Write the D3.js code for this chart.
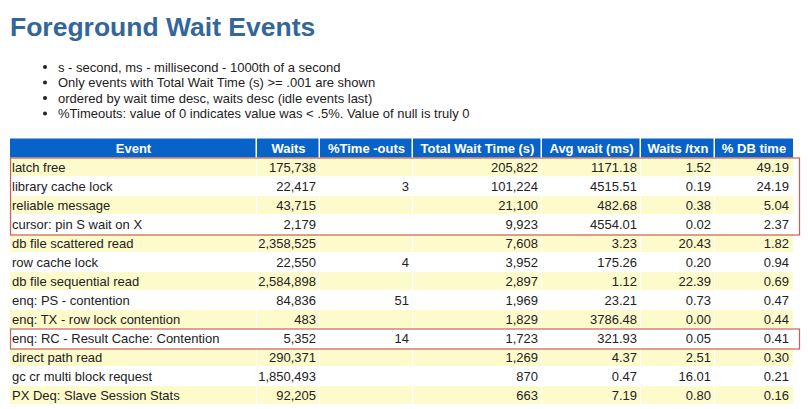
<!DOCTYPE html>
<html><head><meta charset="utf-8">
<script src="https://cdn.jsdelivr.net/npm/d3@7"></script>
<style>
html,body{margin:0;padding:0;background:#fff;}
svg{display:block;font-family:Arial,"Liberation Sans",sans-serif;}
</style></head>
<body>
<svg id="chart" width="808" height="409"></svg>
<script>
// ---- data ----
const title = "Foreground Wait Events";
const notes = [
  "s - second, ms - millisecond - 1000th of a second",
  "Only events with Total Wait Time (s) >= .001 are shown",
  "ordered by wait time desc, waits desc (idle events last)",
  "%Timeouts: value of 0 indicates value was < .5%. Value of null is truly 0"
];
const headers = ["Event", "Waits", "%Time -outs", "Total Wait Time (s)", "Avg wait (ms)", "Waits /txn", "% DB time"];
const events = ["latch free","library cache lock","reliable message","cursor: pin S wait on X",
  "db file scattered read","row cache lock","db file sequential read","enq: PS - contention",
  "enq: TX - row lock contention","enq: RC - Result Cache: Contention","direct path read",
  "gc cr multi block request","PX Deq: Slave Session Stats"];
const waits = [175738,22417,43715,2179,2358525,22550,2584898,84836,483,5352,290371,1850493,92205];
const timeouts = [null,3,null,null,null,4,null,51,null,14,null,null,null];
const totalWait = [205822,101224,21100,9923,7608,3952,2897,1969,1829,1723,1269,870,663];
const avgWait = [1171.18,4515.51,482.68,4554.01,3.23,175.26,1.12,23.21,3786.48,321.93,4.37,0.47,7.19];
const waitsPerTxn = [1.52,0.19,0.38,0.02,20.43,0.20,22.39,0.73,0.00,0.05,2.51,16.01,0.80];
const pctDbTime = [49.19,24.19,5.04,2.37,1.82,0.94,0.69,0.47,0.44,0.41,0.30,0.21,0.16];
const highlightGroups = [["latch free","cursor: pin S wait on X"],
  ["enq: RC - Result Cache: Contention","enq: RC - Result Cache: Contention"]];

// ---- layout ----
const svg = d3.select("#chart");
const colEdges = [10, 257, 320, 413, 542, 641, 715, 793];
const headerTop = 138.5, headerH = 19;
const y = d3.scaleBand().domain(events).range([headerTop + headerH, headerTop + headerH + 19 * events.length]).padding(0);

const fmtInt = d3.format(",");
const fmt2 = d3.format(".2f");
const rows = events.map((e, i) => [
  e,
  fmtInt(waits[i]),
  timeouts[i] == null ? "" : String(timeouts[i]),
  fmtInt(totalWait[i]),
  fmt2(avgWait[i]),
  fmt2(waitsPerTxn[i]),
  fmt2(pctDbTime[i])
]);

// title
svg.append("text").attr("x", 10).attr("y", 36)
  .attr("font-size", 26.5).attr("font-weight", "bold").attr("fill", "#336699")
  .text(title);

// notes
const ng = svg.append("g");
notes.forEach((n, i) => {
  const yy = 67 + i * 15.5;
  ng.append("circle").attr("cx", 45).attr("cy", yy).attr("r", 2).attr("fill", "#222");
  ng.append("text").attr("x", 58).attr("y", yy + 4.5).attr("font-size", 13).attr("fill", "#222").text(n);
});

// header
const hg = svg.append("g");
headers.forEach((h, j) => {
  const x0 = colEdges[j], x1 = colEdges[j + 1];
  hg.append("rect").attr("x", x0).attr("y", headerTop).attr("width", x1 - x0 - (j < headers.length - 1 ? 1.5 : 0)).attr("height", headerH)
    .attr("fill", "#0863c8");
  hg.append("text").attr("x", (x0 + x1) / 2).attr("y", headerTop + 14).attr("text-anchor", "middle")
    .attr("font-size", 13).attr("font-weight", "bold").attr("fill", "#fff").text(h);
});

// body
const body = svg.append("g");
const rowG = body.selectAll("g.row").data(rows).join("g").attr("class", "row")
  .attr("transform", (d, i) => `translate(0,${y(events[i])})`);
rowG.each(function (d, i) {
  const g = d3.select(this);
  if (i % 2 === 0) {
    d.forEach((v, j) => {
      const x0 = colEdges[j], x1 = colEdges[j + 1];
      g.append("rect").attr("x", x0).attr("y", 0.5).attr("width", x1 - x0 - (j < d.length - 1 ? 1 : 0))
        .attr("height", y.bandwidth() - 1).attr("fill", "#fdfbcb");
    });
  }
  d.forEach((v, j) => {
    const x0 = colEdges[j], x1 = colEdges[j + 1];
    g.append("text")
      .attr("x", j === 0 ? x0 + 2 : x1 - 4)
      .attr("y", y.bandwidth() / 2 + 4.5)
      .attr("text-anchor", j === 0 ? "start" : "end")
      .attr("font-size", 13).attr("fill", "#222").text(v);
  });
});

// highlight boxes
highlightGroups.forEach(([a, b]) => {
  const top = y(a), bot = y(b) + y.bandwidth();
  svg.append("rect").attr("x", 10.5).attr("y", top + 0.5).attr("width", 789).attr("height", bot - top + 1)
    .attr("fill", "none").attr("stroke", "#c8615c").attr("stroke-width", 1.2);
});
</script>
</body></html>
